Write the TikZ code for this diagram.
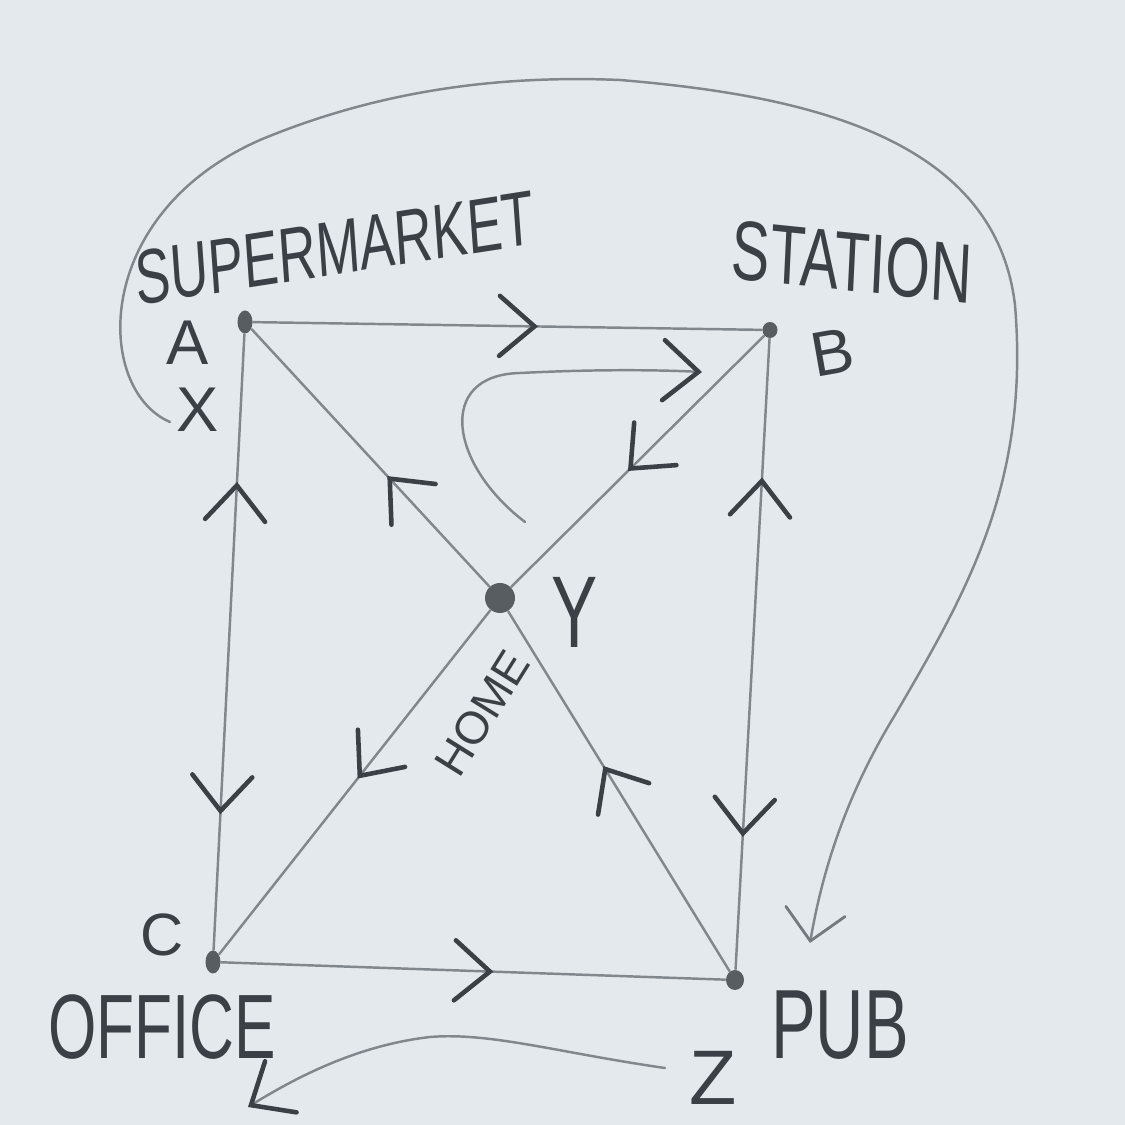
\documentclass[tikz,border=0pt]{standalone}
\usepackage{fontspec}
\setmainfont{Liberation Sans}
\usetikzlibrary{arrows.meta,decorations.markings,shapes.geometric}
\definecolor{paper}{HTML}{E3E9ED}
\definecolor{pencil}{HTML}{80878D}
\definecolor{lead}{HTML}{3A4045}
\tikzset{
  chev/.tip={Straight Barb[length=3.5mm, width=6mm, line width=1.3pt, line cap=round]},
  thinchev/.tip={Straight Barb[length=3mm, width=6mm, line width=0.8pt, line cap=round]},
  spot/.style={ellipse, fill=lead!85, inner sep=0pt, minimum width=1.5mm, minimum height=2.3mm},
  word/.style={text=lead, inner sep=0pt, font=\fontsize{#1}{#1}\selectfont},
  narrow/.style={xscale=0.68},
  road/.style={draw=pencil, line width=0.7pt, line cap=round},
  fwd/.style={postaction={decorate, decoration={markings, mark=at position #1 with {\arrow[lead]{chev}}}}},
  bwd/.style={postaction={decorate, decoration={markings, mark=at position #1 with {\arrowreversed[lead]{chev}}}}}
}
\begin{document}
\begin{tikzpicture}
  \fill[paper] (0,0) rectangle (11.25,11.25);
  \useasboundingbox (0,0) rectangle (11.25,11.25);

  % places
  \node[spot] (a) at (2.45,8.03) {};
  \node[spot, minimum width=1.5mm, minimum height=1.6mm] (b) at (7.70,7.95) {};
  \node[spot, minimum width=3mm, minimum height=3mm] (y) at (5.00,5.27) {};
  \node[spot] (c) at (2.13,1.63) {};
  \node[spot, minimum width=1.8mm, minimum height=2mm] (z) at (7.35,1.45) {};

  % labels
  \node[word=22, narrow, rotate=6] (supermarket) at (3.35,8.77) {SUPERMARKET};
  \node[word=24, narrow, rotate=-4] (station) at (8.52,8.63) {STATION};
  \node[word=18] (alabel) at (1.88,7.82) {A};
  \node[word=18] (xlabel) at (1.98,7.15) {X};
  \node[word=18, rotate=10] (blabel) at (8.32,7.73) {B};
  \node[word=29, narrow] (ylabel) at (5.75,5.13) {Y};
  \node[word=13, rotate=58] (home) at (4.82,4.12) {HOME};
  \node[word=17] (clabel) at (1.62,1.90) {C};
  \node[word=26, narrow] (office) at (1.62,0.98) {OFFICE};
  \node[word=22] (zlabel) at (7.13,0.47) {Z};
  \node[word=28, narrow] (pub) at (8.40,1.00) {PUB};

  % loose ends of the curves
  \coordinate (loopstart) at (1.70,7.03);
  \coordinate (looptip) at (8.10,1.82);
  \coordinate (ystart) at (5.25,6.03);
  \coordinate (btip) at (7.02,7.53);
  \coordinate (zstart) at (6.65,0.57);
  \coordinate (ctip) at (2.48,0.18);

  % straight roads
  \draw[road, fwd=0.56] (a) -- (b);
  \draw[road, fwd=0.54] (b) -- (y);
  \draw[road, fwd=0.49] (y) -- (c);
  \draw[road, fwd=0.43] (y) -- (a);
  \draw[road, fwd=0.57] (z) -- (y);
  \draw[road, bwd=0.24, fwd=0.78] (a) -- (c);
  \draw[road, bwd=0.22, fwd=0.79] (b) -- (z);
  \draw[road, fwd=0.54] (c) -- (z);

  % curved trips
  \draw[road, -{thinchev[pencil!80!lead]}] (loopstart)
    .. controls (0.95,7.35) and (0.90,9.1) .. (2.6,9.85)
    .. controls (3.8,10.35) and (5.0,10.5) .. (6.2,10.45)
    .. controls (8.0,10.3) and (9.95,9.9) .. (10.15,8.2)
    .. controls (10.3,6.4) and (9.65,5.3) .. (8.95,4.1)
    .. controls (8.4,3.2) and (8.2,2.4) .. (looptip);
  \draw[road, -{chev[lead]}] (ystart)
    .. controls (4.50,6.6) and (4.35,7.5) .. (5.2,7.52)
    .. controls (6.0,7.56) and (6.6,7.55) .. (btip);
  \draw[road, -{chev[lead]}] (zstart)
    .. controls (5.6,0.72) and (4.9,0.93) .. (4.3,0.88)
    .. controls (3.6,0.8) and (3.0,0.5) .. (ctip);
\end{tikzpicture}
\end{document}
